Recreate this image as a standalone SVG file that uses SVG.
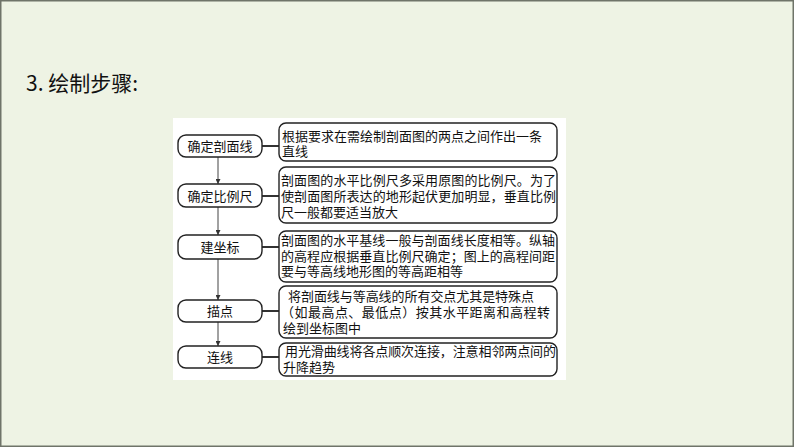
<svg xmlns="http://www.w3.org/2000/svg" width="794" height="447" viewBox="0 0 794 447">
<defs>
<marker id="arr" viewBox="0 0 6 6" refX="6" refY="3" markerWidth="5" markerHeight="5" orient="auto" markerUnits="userSpaceOnUse">
<path d="M0,0 L6,3 L0,6 z" fill="#333"/>
</marker>
<style>
.bg{fill:#EEF3E4;stroke:#6f7469;stroke-width:1.5}
.panel{fill:#ffffff}
.lb{fill:#ffffff;stroke:#222;stroke-width:1.4}
.rb{fill:#ffffff;stroke:#222;stroke-width:1.4}
.t{font-family:"Noto Sans CJK SC","Liberation Serif",serif;font-size:13px;fill:#111}
.c{text-anchor:middle}
.title{font-family:"Noto Sans CJK SC","Liberation Sans",sans-serif;font-size:21px;fill:#111}
.v{stroke:#444;stroke-width:1;fill:none}
.h{stroke:#333;stroke-width:2;fill:none}
</style>
</defs>
<rect class="bg" x="0.75" y="0.75" width="792.5" height="445.5"/>
<text class="title" x="26" y="91">3. 绘制步骤:</text>
<rect class="panel" x="173" y="118" width="393" height="262"/>
<g id="connectors">
<line class="v" x1="218" y1="157" x2="218" y2="184" marker-end="url(#arr)"/>
<line class="v" x1="218" y1="207" x2="218" y2="235" marker-end="url(#arr)"/>
<line class="v" x1="218" y1="259" x2="218" y2="300" marker-end="url(#arr)"/>
<line class="v" x1="218" y1="322" x2="218" y2="346" marker-end="url(#arr)"/>
<line class="h" x1="262" y1="146" x2="279" y2="146"/>
<line class="h" x1="262" y1="196" x2="279" y2="196"/>
<line class="h" x1="262" y1="247" x2="279" y2="247"/>
<line class="h" x1="262" y1="311" x2="279" y2="311"/>
<line class="h" x1="262" y1="357" x2="279" y2="357"/>
</g>
<g id="step1">
<rect class="lb" x="178" y="135" width="84" height="22" rx="8"/>
<text class="t c" x="220" y="151">确定剖面线</text>
</g>
<g id="step2">
<rect class="lb" x="178" y="184" width="84" height="23" rx="8"/>
<text class="t c" x="220" y="200.5">确定比例尺</text>
</g>
<g id="step3">
<rect class="lb" x="178" y="235" width="84" height="24" rx="8"/>
<text class="t c" x="220" y="251.5">建坐标</text>
</g>
<g id="step4">
<rect class="lb" x="178" y="300" width="84" height="22" rx="8"/>
<text class="t c" x="220" y="315.5">描点</text>
</g>
<g id="step5">
<rect class="lb" x="178" y="346" width="84" height="22" rx="8"/>
<text class="t c" x="220" y="361.5">连线</text>
</g>
<g id="desc1">
<rect class="rb" x="279" y="123" width="278" height="38" rx="7"/>
<text class="t" x="282" y="141" textLength="260">根据要求在需绘制剖面图的两点之间作出一条</text>
<text class="t" x="282" y="156">直线</text>
</g>
<g id="desc2">
<rect class="rb" x="279" y="167" width="278" height="56" rx="7"/>
<text class="t" x="281" y="185" textLength="275">剖面图的水平比例尺多采用原图的比例尺。为了</text>
<text class="t" x="281" y="201" textLength="275">使剖面图所表达的地形起伏更加明显，垂直比例</text>
<text class="t" x="281" y="217">尺一般都要适当放大</text>
</g>
<g id="desc3">
<rect class="rb" x="279" y="231" width="278" height="51" rx="7"/>
<text class="t" x="281" y="245" textLength="274">剖面图的水平基线一般与剖面线长度相等。纵轴</text>
<text class="t" x="281" y="261" textLength="274">的高程应根据垂直比例尺确定；图上的高程间距</text>
<text class="t" x="281" y="276">要与等高线地形图的等高距相等</text>
</g>
<g id="desc4">
<rect class="rb" x="279" y="286" width="278" height="52" rx="7"/>
<text class="t" x="288" y="301" textLength="246">将剖面线与等高线的所有交点尤其是特殊点</text>
<text class="t" x="281" y="317" textLength="269">（如最高点、最低点）按其水平距离和高程转</text>
<text class="t" x="283" y="333">绘到坐标图中</text>
</g>
<g id="desc5">
<rect class="rb" x="279" y="343" width="278" height="33" rx="7"/>
<text class="t" x="285" y="356" textLength="271">用光滑曲线将各点顺次连接，注意相邻两点间的</text>
<text class="t" x="283" y="372">升降趋势</text>
</g>
</svg>
